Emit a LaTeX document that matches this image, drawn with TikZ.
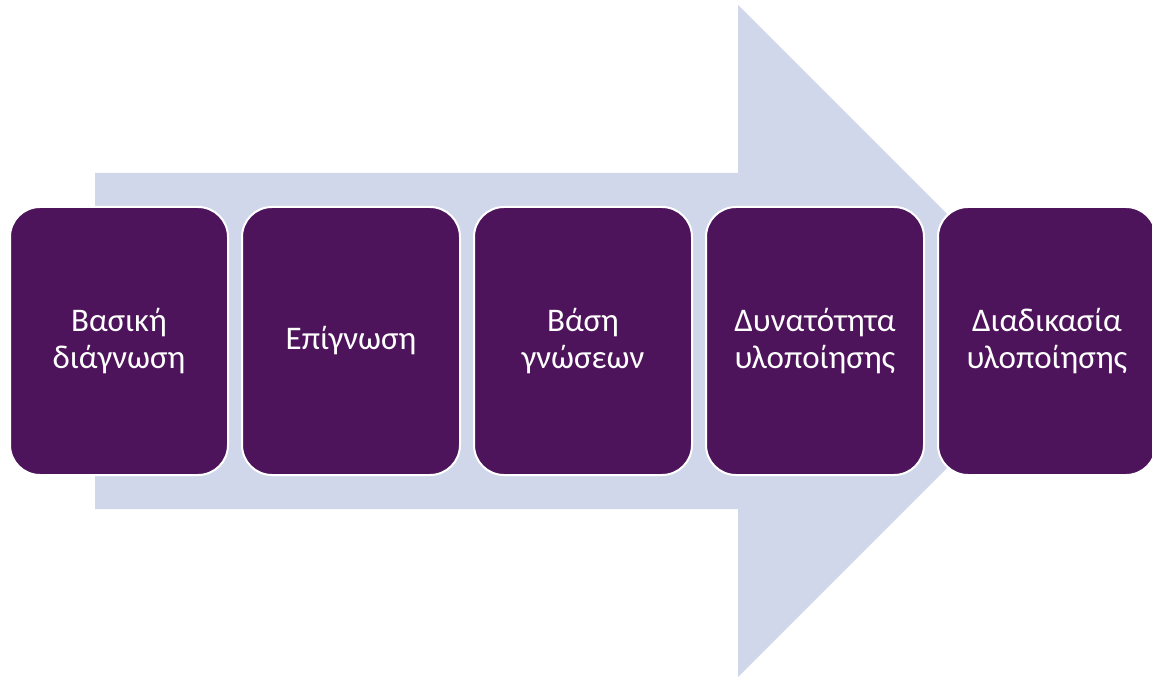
\documentclass[tikz,border=0pt]{standalone}
\usepackage{fontspec}
\setmainfont{Carlito}
\usepackage{tikz}
\usetikzlibrary{positioning}
\definecolor{stagepurple}{HTML}{4E145B}
\definecolor{flowblue}{HTML}{D0D7EB}
\tikzstyle{stagebox} = [draw=white, fill=stagepurple, line width=2pt,
    rectangle, rounded corners=30pt, minimum width=218pt, minimum height=268pt,
    text=white, align=center, font=\fontsize{33}{37}\selectfont, outer sep=0pt]

\begin{document}
\begin{tikzpicture}[x=1pt,y=-1pt]
\useasboundingbox (0,0) rectangle (1152,679);
\clip (0,0) rectangle (1152,679);

% the big arrow behind
\fill[flowblue] (95,173) -- (738,173) -- (738,5) -- (1074,341)
    -- (738,677) -- (738,509) -- (95,509) -- cycle;

\node [stagebox] (box1) at (119,341) {Βασική\\διάγνωση};
\node [stagebox,right=14pt of box1] (box2) {Επίγνωση};
\node [stagebox,right=14pt of box2] (box3) {Βάση\\γνώσεων};
\node [stagebox,right=14pt of box3] (box4) {Δυνατότητα\\υλοποίησης};
\node [stagebox,right=14pt of box4] (box5) {Διαδικασία\\υλοποίησης};

\end{tikzpicture}
\end{document}
